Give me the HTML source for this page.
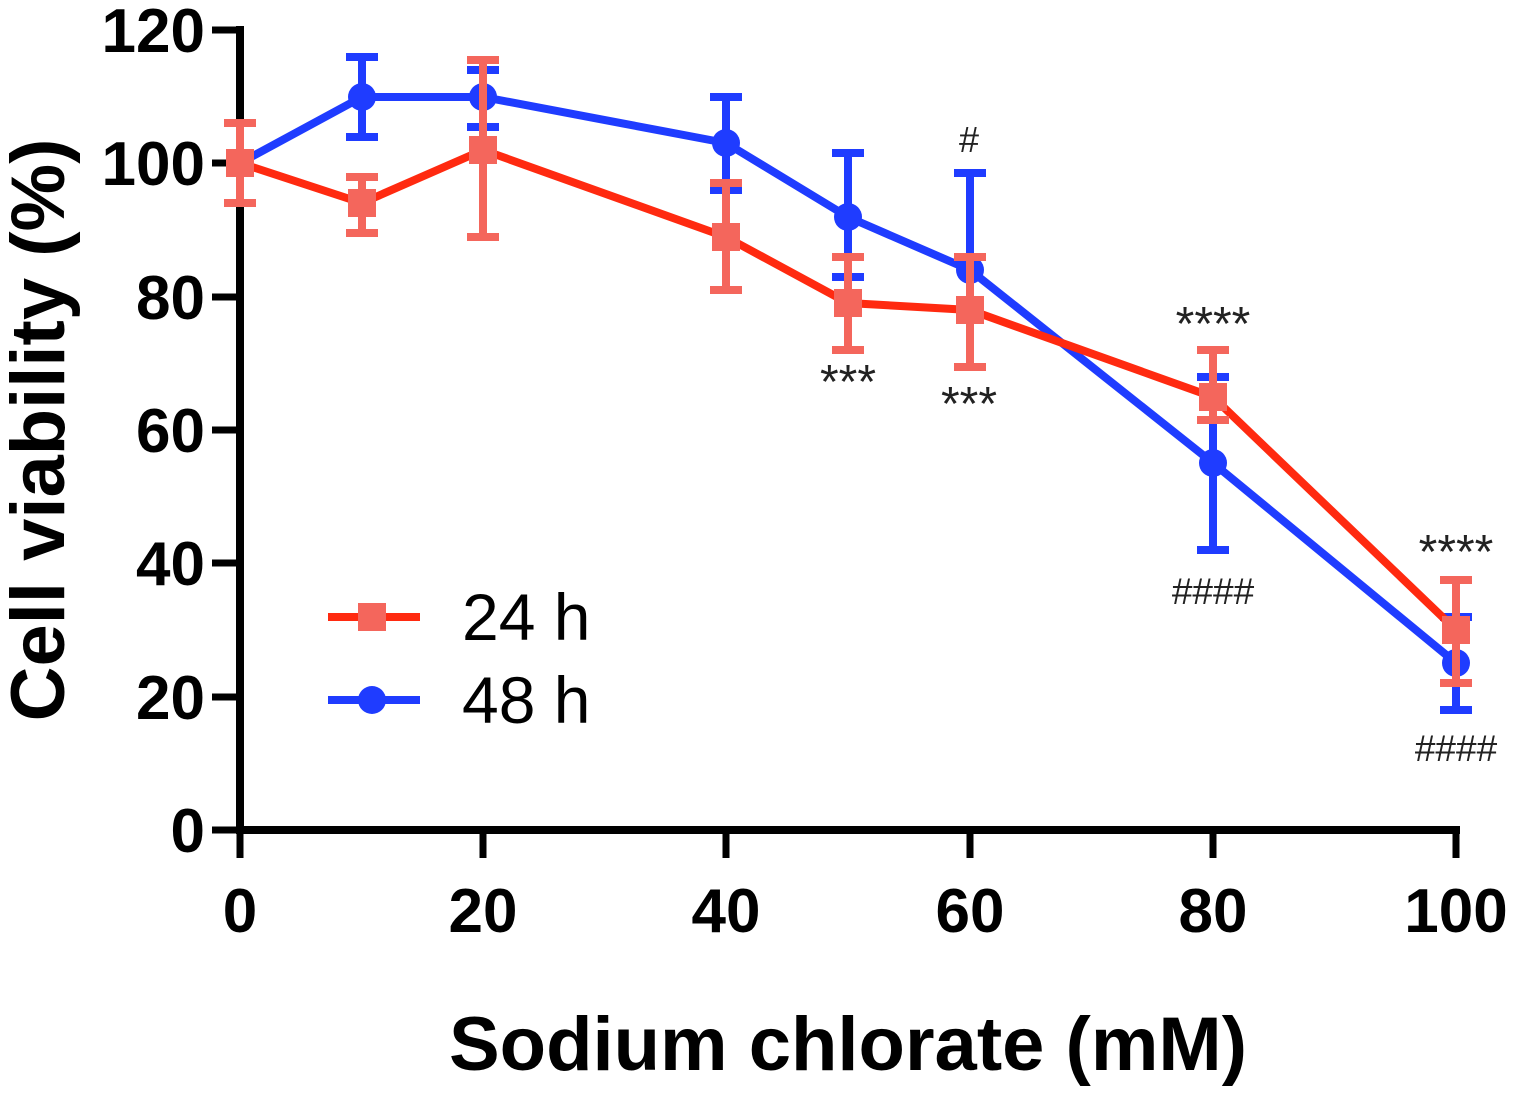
<!DOCTYPE html>
<html><head><meta charset="utf-8"><style>body{margin:0;background:#fff}</style></head>
<body>
<svg width="1514" height="1095" xmlns="http://www.w3.org/2000/svg" font-family="Liberation Sans, Arial, sans-serif">
<g stroke="#000" stroke-width="8" fill="none">
<line x1="240" y1="26" x2="240" y2="834"/>
<line x1="236" y1="830" x2="1460" y2="830"/>
<g stroke-width="7">
<line x1="212" y1="30" x2="240" y2="30"/><line x1="212" y1="163" x2="240" y2="163"/><line x1="212" y1="297" x2="240" y2="297"/><line x1="212" y1="430" x2="240" y2="430"/><line x1="212" y1="563" x2="240" y2="563"/><line x1="212" y1="697" x2="240" y2="697"/><line x1="212" y1="830" x2="240" y2="830"/>
<line x1="240" y1="830" x2="240" y2="858"/><line x1="483" y1="830" x2="483" y2="858"/><line x1="726" y1="830" x2="726" y2="858"/><line x1="970" y1="830" x2="970" y2="858"/><line x1="1213" y1="830" x2="1213" y2="858"/><line x1="1456" y1="830" x2="1456" y2="858"/>
</g></g>
<g font-weight="bold" font-size="62" text-anchor="end">
<text x="205" y="52">120</text><text x="205" y="185">100</text><text x="205" y="319">80</text><text x="205" y="452">60</text><text x="205" y="585">40</text><text x="205" y="719">20</text><text x="205" y="852">0</text>
</g>
<g font-weight="bold" font-size="62" text-anchor="middle">
<text x="240" y="932">0</text><text x="483" y="932">20</text><text x="726" y="932">40</text><text x="970" y="932">60</text><text x="1213" y="932">80</text><text x="1456" y="932">100</text>
</g>
<text x="848" y="1070" font-weight="bold" font-size="76" text-anchor="middle">Sodium chlorate (mM)</text>
<text transform="translate(64,430) rotate(-90)" font-weight="bold" font-size="76" text-anchor="middle">Cell viability (%)</text>
<!-- blue 48h -->
<g stroke="#1f3cff" stroke-width="8" fill="none">
<polyline points="240,163 362,97 483,97 726,143 848,217 970,270 1213,463 1456,663"/>
<path d="M362,57V137M346,57H378M346,137H378 M483,70V127M467,70H499M467,127H499 M726,97V190M710,97H742M710,190H742 M848,153V277M832,153H864M832,277H864 M970,173V270M954,173H986 M1213,377V550M1197,377H1229M1197,550H1229 M1456,617V710M1440,617H1472M1440,710H1472"/>
</g>
<g fill="#1f3cff"><circle cx="240" cy="163" r="14"/><circle cx="362" cy="97" r="14"/><circle cx="483" cy="97" r="14"/><circle cx="726" cy="143" r="14"/><circle cx="848" cy="217" r="14"/><circle cx="970" cy="270" r="14"/><circle cx="1213" cy="463" r="14"/><circle cx="1456" cy="663" r="14"/></g>
<!-- red 24h -->
<polyline points="240,163 362,203 483,150 726,237 848,303 970,310 1213,397 1456,630" stroke="#ff2a10" stroke-width="8" fill="none"/>
<g stroke="#f4665c" stroke-width="8" fill="none">
<path d="M240,123V203M224,123H256M224,203H256 M362,177V233M346,177H378M346,233H378 M483,60V237M467,60H499M467,237H499 M726,183V290M710,183H742M710,290H742 M848,257V350M832,257H864M832,350H864 M970,257V367M954,257H986M954,367H986 M1213,350V420M1197,350H1229M1197,420H1229 M1456,580V683M1440,580H1472M1440,683H1472"/>
</g>
<g fill="#f4665c"><rect x="226" y="149" width="28" height="28"/><rect x="348" y="189" width="28" height="28"/><rect x="469" y="136" width="28" height="28"/><rect x="712" y="223" width="28" height="28"/><rect x="834" y="289" width="28" height="28"/><rect x="956" y="296" width="28" height="28"/><rect x="1199" y="383" width="28" height="28"/><rect x="1442" y="616" width="28" height="28"/></g>
<g text-anchor="middle" fill="#222">
<text x="969" y="152" font-size="36">#</text>
<g font-size="48"><text x="848" y="398">***</text><text x="969" y="420">***</text><text x="1213" y="340">****</text><text x="1456" y="568">****</text></g>
<g font-size="37"><text x="1213" y="604">####</text><text x="1456" y="761">####</text></g>
</g>
<line x1="328" y1="617" x2="420" y2="617" stroke="#ff2a10" stroke-width="8"/>
<rect x="358" y="603" width="28" height="28" fill="#f4665c"/>
<text x="462" y="640" font-size="66">24 h</text>
<line x1="328" y1="700" x2="420" y2="700" stroke="#1f3cff" stroke-width="8"/>
<circle cx="372" cy="700" r="14" fill="#1f3cff"/>
<text x="462" y="723" font-size="66">48 h</text>
</svg>
</body></html>
